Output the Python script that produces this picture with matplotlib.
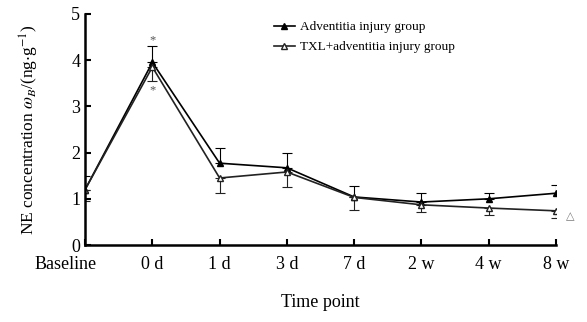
"""
NE concentration over time for the two adventitia injury groups
"""
import matplotlib.pyplot as plt
import matplotlib.transforms as mtransforms
from matplotlib.lines import Line2D
import numpy as np

plt.rcParams["font.family"] = ["Liberation Serif", "DejaVu Serif"]
plt.rcParams["mathtext.fontset"] = "stix"

time_points = ["Baseline", "0 d", "1 d", "3 d", "7 d", "2 w", "4 w", "8 w"]

injury_mean = [1.20, 3.95, 1.77, 1.67, 1.04, 0.93, 1.00, 1.12]
injury_err = [0.30, 0.35, 0.33, 0.33, 0.24, 0.20, 0.13, 0.18]

txl_mean = [1.20, 3.85, 1.45, 1.58, 1.03, 0.87, 0.80, 0.74]
txl_err = [0.25, 0.30, 0.32, 0.33, 0.27, 0.15, 0.15, 0.16]

xs = np.arange(len(time_points))

fig = plt.figure(figsize=(5.87, 3.22), dpi=100)
ax = fig.add_axes([0.145, 0.239, 0.802, 0.718])

# filled triangles with upper error bars, open triangles with lower ones
ax.errorbar(xs, injury_mean, yerr=[np.zeros(len(xs)), injury_err],
            color="black", marker="^", markersize=5, linewidth=1.2,
            capsize=3.5, elinewidth=0.8, capthick=0.8)
ax.errorbar(xs, txl_mean, yerr=[txl_err, np.zeros(len(xs))],
            color="#222222", marker="^", markersize=5, markerfacecolor="white",
            linewidth=1.2, capsize=3.5, elinewidth=0.8, capthick=0.8)

# significance marks
ax.text(1, 4.42, "*", ha="center", va="center", fontsize=9, color="#555555")
ax.text(1, 3.35, "*", ha="center", va="center", fontsize=9, color="#555555")
ax.text(7.15, 0.62, "\u25b3", ha="left", va="center", fontsize=8, color="#777777")

ax.set_xlim(0, 7)
ax.set_ylim(0, 5)
ax.set_xticks(xs)
ax.set_xticklabels(time_points, fontsize=13)
ax.set_yticks(np.arange(0, 6, 1))
ax.tick_params(axis="both", direction="in", length=4, width=1.5, labelsize=13)
ax.tick_params(axis="x", pad=8)

# the first label sits left of the y axis
shift = mtransforms.ScaledTranslation(-20 / 100, 0, fig.dpi_scale_trans)
first = ax.get_xticklabels()[0]
first.set_transform(first.get_transform() + shift)

for side in ("top", "right"):
    ax.spines[side].set_visible(False)
for side in ("left", "bottom"):
    ax.spines[side].set_linewidth(1.8)

ax.set_xlabel("Time point", fontsize=13, labelpad=15)
ax.set_ylabel(r"NE concentration $\omega_{B}$/(ng$\cdot$g$^{-1}$)", fontsize=12.5,
              labelpad=22)

handles = [
    Line2D([], [], color="black", marker="^", markersize=5, linewidth=1.2),
    Line2D([], [], color="#222222", marker="^", markersize=5,
           markerfacecolor="white", linewidth=1.2),
]
ax.legend(handles, ["Adventitia injury group", "TXL+adventitia injury group"],
          loc="upper left", bbox_to_anchor=(0.375, 1.02), frameon=False,
          fontsize=9.5, handlelength=1.6, handletextpad=0.4, labelspacing=0.6)

fig.savefig("out.png", dpi=100)
plt.close(fig)
